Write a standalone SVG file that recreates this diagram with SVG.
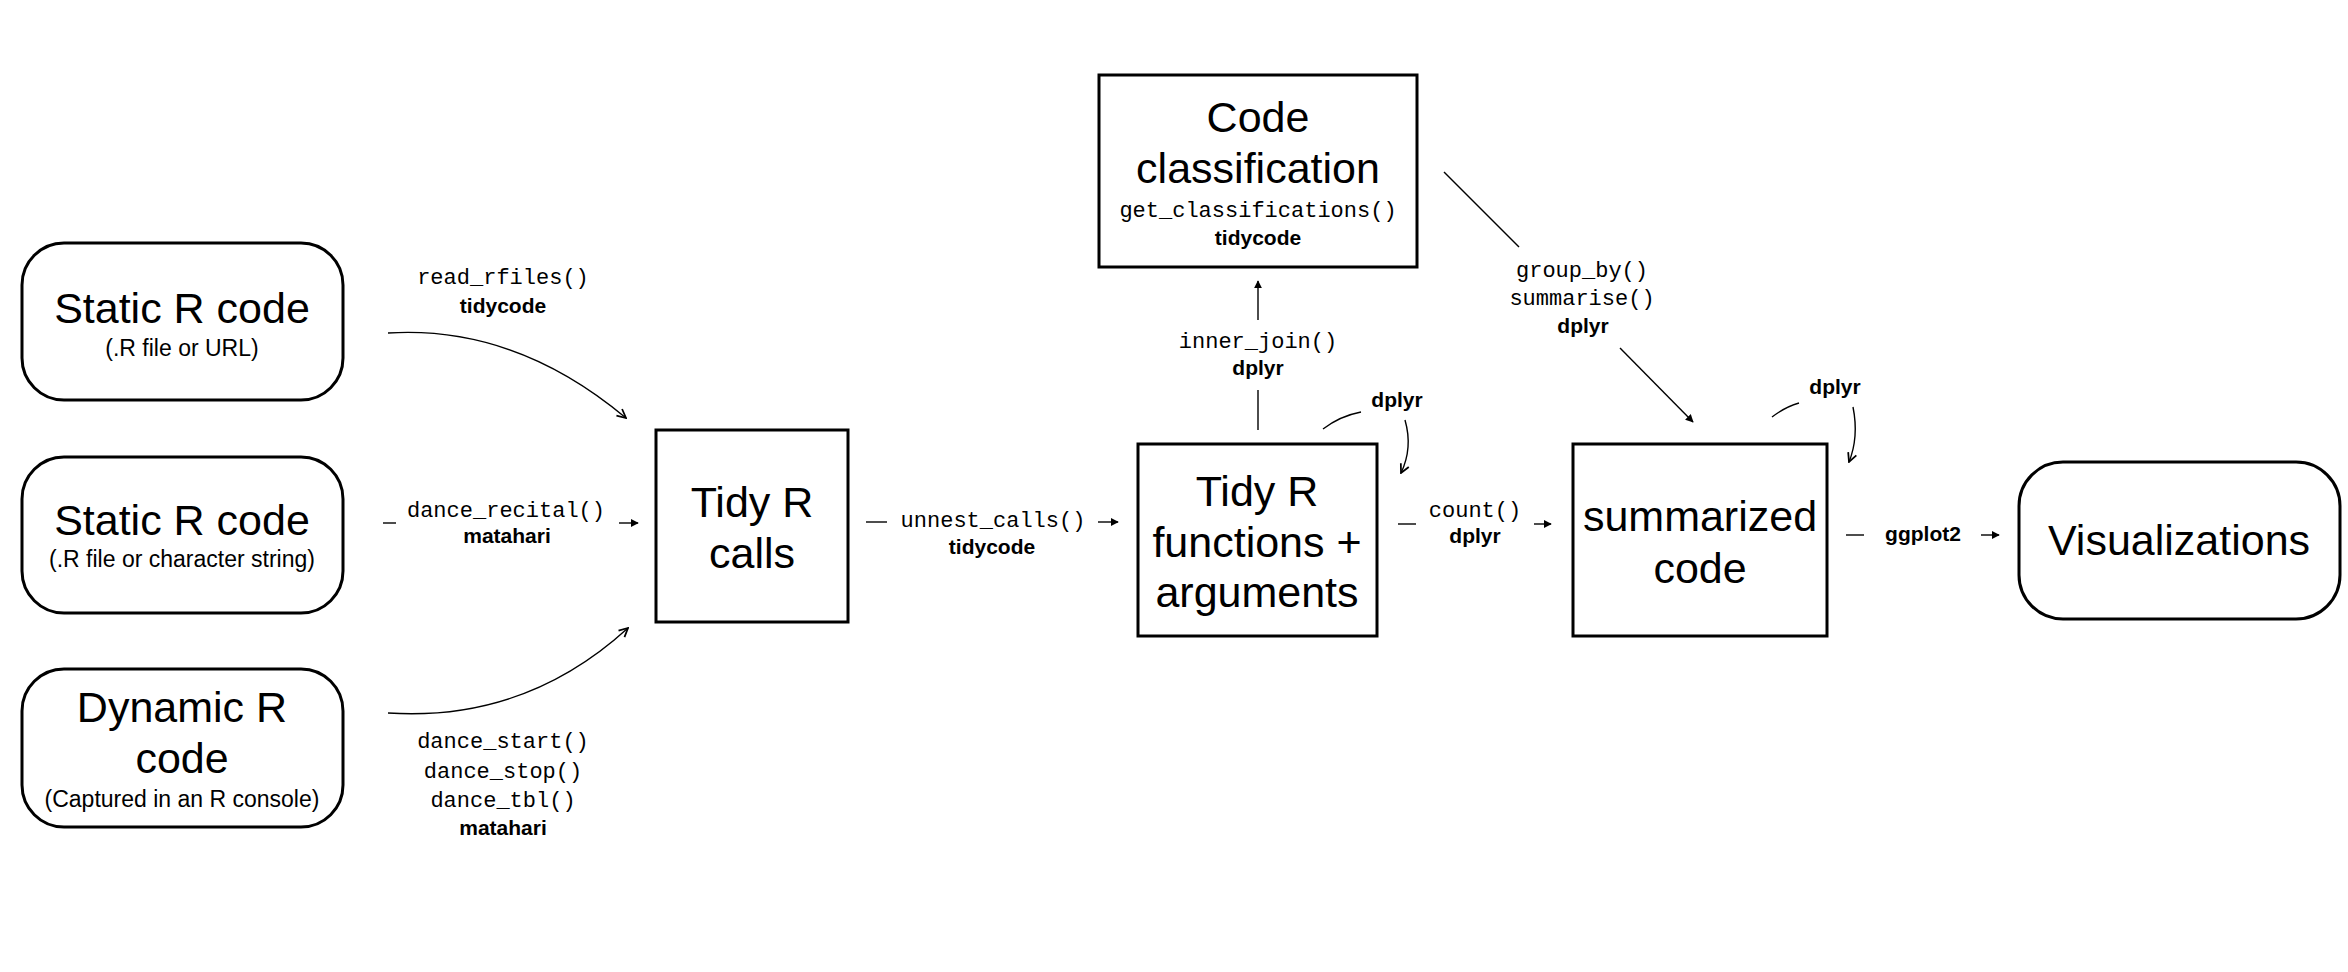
<svg xmlns="http://www.w3.org/2000/svg" width="2348" height="972" viewBox="0 0 2348 972">
<style>
.box{fill:#fff;stroke:#000;stroke-width:3}
.t{font-family:"Liberation Sans",Arial,sans-serif;font-size:43px;fill:#000;text-anchor:middle}
.s{font-family:"Liberation Sans",Arial,sans-serif;font-size:23px;fill:#000;text-anchor:middle}
.m{font-family:"Liberation Mono","DejaVu Sans Mono",monospace;font-size:22px;fill:#000;text-anchor:middle}
.b{font-family:"Liberation Sans",Arial,sans-serif;font-size:21px;font-weight:bold;fill:#000;text-anchor:middle}
.c{fill:none;stroke:#000;stroke-width:1.4}
.ct{fill:none;stroke:#000;stroke-width:1.4;marker-end:url(#tri)}
.cc{fill:none;stroke:#000;stroke-width:1.4;marker-end:url(#chev)}
</style>
<defs>
<marker id="tri" viewBox="0 0 10 10" refX="9" refY="5" markerWidth="8" markerHeight="8" markerUnits="userSpaceOnUse" orient="auto">
<path d="M0,0 L10,5 L0,10 Z" fill="#000"/>
</marker>
<marker id="chev" viewBox="0 0 10 10" refX="9" refY="5" markerWidth="11" markerHeight="11" markerUnits="userSpaceOnUse" orient="auto">
<path d="M1,1 L9,5 L1,9" fill="none" stroke="#000" stroke-width="1.6"/>
</marker>
</defs>
<rect width="2348" height="972" fill="#fff"/>

<g id="connectors">
<path class="cc" d="M388 333 Q515 325 626 418"/>
<path class="cc" d="M388 713 Q525 722 628 628"/>
<line class="c" x1="383" y1="523" x2="396" y2="523"/>
<line class="ct" x1="619" y1="523" x2="638" y2="523"/>
<line class="c" x1="866" y1="522" x2="887" y2="522"/>
<line class="ct" x1="1098" y1="522" x2="1118" y2="522"/>
<line class="c" x1="1258" y1="430" x2="1258" y2="390"/>
<line class="ct" x1="1258" y1="320" x2="1258" y2="281"/>
<line class="c" x1="1444" y1="172" x2="1519" y2="247"/>
<line class="ct" x1="1620" y1="348" x2="1693" y2="422"/>
<path class="c" d="M1323 429 Q1340 416 1361 412"/>
<path class="cc" d="M1405 420 Q1413 448 1401 473"/>
<line class="c" x1="1398" y1="524" x2="1416" y2="524"/>
<line class="ct" x1="1534" y1="524" x2="1551" y2="524"/>
<path class="c" d="M1772 417 Q1785 407 1799 403"/>
<path class="cc" d="M1853 407 Q1859 437 1849 462"/>
<line class="c" x1="1846" y1="535" x2="1864" y2="535"/>
<line class="ct" x1="1981" y1="535" x2="1999" y2="535"/>
</g>

<g id="labels">
<text class="m" x="503" y="284">read_rfiles()</text>
<text class="b" x="503" y="313">tidycode</text>
<text class="m" x="506" y="517">dance_recital()</text>
<text class="b" x="507" y="543">matahari</text>
<text class="m" x="503" y="748">dance_start()</text>
<text class="m" x="503" y="778">dance_stop()</text>
<text class="m" x="503" y="807">dance_tbl()</text>
<text class="b" x="503" y="835">matahari</text>
<text class="m" x="993" y="527">unnest_calls()</text>
<text class="b" x="992" y="554">tidycode</text>
<text class="m" x="1258" y="348">inner_join()</text>
<text class="b" x="1258" y="375">dplyr</text>
<text class="m" x="1582" y="277">group_by()</text>
<text class="m" x="1582" y="305">summarise()</text>
<text class="b" x="1583" y="333">dplyr</text>
<text class="b" x="1397" y="407">dplyr</text>
<text class="b" x="1835" y="394">dplyr</text>
<text class="m" x="1475" y="517">count()</text>
<text class="b" x="1475" y="543">dplyr</text>
<text class="b" x="1923" y="541">ggplot2</text>
</g>

<g id="static1">
<rect class="box" x="22" y="243" width="321" height="157" rx="42"/>
<text class="t" x="182" y="323">Static R code</text>
<text class="s" x="182" y="356">(.R file or URL)</text>
</g>
<g id="static2">
<rect class="box" x="22" y="457" width="321" height="156" rx="42"/>
<text class="t" x="182" y="535">Static R code</text>
<text class="s" x="182" y="567">(.R file or character string)</text>
</g>
<g id="dynamic">
<rect class="box" x="22" y="669" width="321" height="158" rx="42"/>
<text class="t" x="182" y="722">Dynamic R</text>
<text class="t" x="182" y="773">code</text>
<text class="s" x="182" y="807">(Captured in an R console)</text>
</g>
<g id="tidycalls">
<rect class="box" x="656" y="430" width="192" height="192"/>
<text class="t" x="752" y="517">Tidy R</text>
<text class="t" x="752" y="568">calls</text>
</g>
<g id="tidyfuns">
<rect class="box" x="1138" y="444" width="239" height="192"/>
<text class="t" x="1257" y="506">Tidy R</text>
<text class="t" x="1257" y="557">functions +</text>
<text class="t" x="1257" y="607">arguments</text>
</g>
<g id="classification">
<rect class="box" x="1099" y="75" width="318" height="192"/>
<text class="t" x="1258" y="132">Code</text>
<text class="t" x="1258" y="183">classification</text>
<text class="m" x="1258" y="217">get_classifications()</text>
<text class="b" x="1258" y="245">tidycode</text>
</g>
<g id="summarized">
<rect class="box" x="1573" y="444" width="254" height="192"/>
<text class="t" x="1700" y="531">summarized</text>
<text class="t" x="1700" y="583">code</text>
</g>
<g id="visualizations">
<rect class="box" x="2019" y="462" width="321" height="157" rx="44"/>
<text class="t" x="2179" y="555">Visualizations</text>
</g>
</svg>
